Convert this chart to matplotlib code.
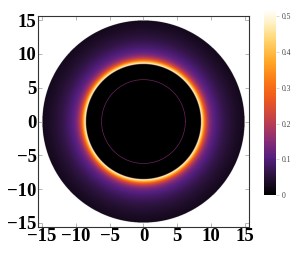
import numpy as np
import matplotlib
matplotlib.use("Agg")
import matplotlib.pyplot as plt
from matplotlib.colors import LinearSegmentedColormap

# Radial intensity profile (radius, intensity)
profile_r = [0.0, 8.50, 8.55, 8.7, 8.9, 9.1, 9.4, 9.8, 10.3, 11.0, 12.0, 13.0, 14.0, 15.0]
profile_I = [0.0, 0.0, 0.52, 0.45, 0.37, 0.29, 0.21, 0.15, 0.115, 0.09, 0.065, 0.048, 0.035, 0.026]
disk_radius = 15.0
inner_ring_radius = 6.2
inner_ring_value = 0.15

ticks = [-15, -10, -5, 0, 5, 10, 15]
cbar_ticks = [0, 0.1, 0.2, 0.3, 0.4, 0.5]
vmax = 0.52

# Sunset-like colormap
cmap = LinearSegmentedColormap.from_list("sunset", [
    (0.00, (0.0, 0.0, 0.0)),
    (0.10, (0.16, 0.07, 0.22)),
    (0.20, (0.33, 0.12, 0.50)),
    (0.30, (0.55, 0.18, 0.45)),
    (0.40, (0.75, 0.25, 0.30)),
    (0.52, (0.93, 0.35, 0.12)),
    (0.60, (0.98, 0.45, 0.08)),
    (0.72, (1.00, 0.66, 0.15)),
    (0.84, (1.00, 0.84, 0.45)),
    (0.93, (1.00, 0.95, 0.78)),
    (1.00, (1.00, 1.00, 1.00)),
])
cmap.set_bad((1, 1, 1, 0))

n = 900
xs = np.linspace(-15.6, 15.6, n)
X, Y = np.meshgrid(xs, xs)
R = np.hypot(X, Y)
Z = np.interp(R, profile_r, profile_I)
Z = np.ma.masked_where(R > disk_radius, Z)

fig = plt.figure(figsize=(3.0, 2.59), dpi=100)
ax = fig.add_axes([0.1267, 0.1197, 0.703, 0.822])
im = ax.imshow(Z, extent=[-15.6, 15.6, -15.6, 15.6], origin="lower",
               cmap=cmap, vmin=0, vmax=vmax, interpolation="bilinear")
th = np.linspace(0, 2 * np.pi, 400)
ax.plot(inner_ring_radius * np.cos(th), inner_ring_radius * np.sin(th),
        color=cmap(inner_ring_value / vmax), lw=0.5, alpha=0.8)
ax.set_xlim(-15.6, 15.6)
ax.set_ylim(-15.6, 15.6)
ax.set_xticks(ticks)
ax.set_yticks(ticks)
ax.set_xticklabels([str(t).replace("-", "\u2212") for t in ticks])
ax.set_yticklabels([str(t).replace("-", "\u2212") for t in ticks])
for lab in ax.get_xticklabels() + ax.get_yticklabels():
    lab.set_fontfamily("Liberation Serif")
    lab.set_fontweight("bold")
    lab.set_fontsize(13.5)
ax.tick_params(direction="in", length=3, width=0.5, color="#999999", pad=1,
               top=True, right=True)
for s in ax.spines.values():
    s.set_linewidth(0.8)
    s.set_color("#333333")

cax = fig.add_axes([0.88, 0.247, 0.04, 0.718])
cb = fig.colorbar(im, cax=cax, ticks=cbar_ticks)
cb.outline.set_visible(False)
cax.set_yticklabels([f"{t:g}" for t in cbar_ticks])
for lab in cax.get_yticklabels():
    lab.set_fontfamily("Liberation Serif")
    lab.set_fontsize(5.5)
    lab.set_color("#444444")
cax.tick_params(length=2, width=0.4, color="#bbbbbb", pad=2)

fig.savefig("out.png", dpi=100, facecolor="white")
